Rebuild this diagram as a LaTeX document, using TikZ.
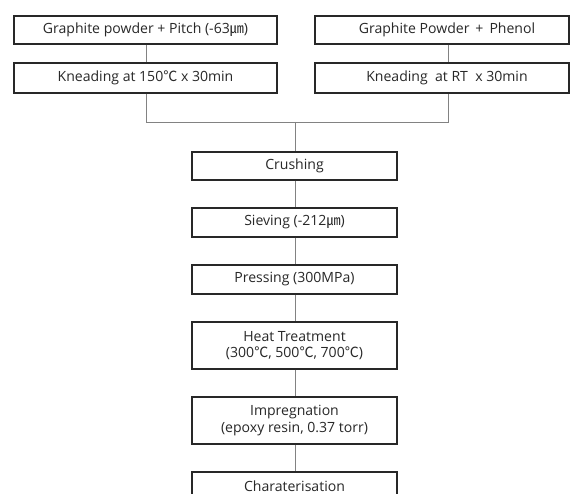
\documentclass[tikz,border=0pt]{standalone}
\usepackage{fontspec}
\setmainfont{Open Sans}
\newfontfamily\cjk{Noto Sans CJK KR}
\usetikzlibrary{positioning}
\definecolor{ink}{RGB}{40,40,40}
\definecolor{wire}{RGB}{130,130,130}
\tikzset{
  stepbox/.style={draw=ink,line width=0.75pt,fill=white,text=ink,
    minimum width=#1,minimum height=5.6mm,align=center,inner sep=1pt,
    font=\fontsize{8}{9.2}\selectfont},
  stepbox/.default=41mm,
  tall/.style={minimum height=9.4mm},
  link/.style={draw=wire,line width=0.5pt},
}
\newcommand{\um}{{\cjk ㎛}}
\newcommand{\degc}{{\cjk ℃}}

\begin{document}
\begin{tikzpicture}
    \clip (0,0) rectangle (11.4,9.88);
    % two starting mixtures
    \node[stepbox=52.6mm] (pitch)  at (2.91,9.28) {Graphite powder + Pitch (-63\um)};
    \node[stepbox=52.6mm,minimum height=6mm] (kneadP) at (2.91,8.32) {Kneading at 150\degc{} x 30min};
    \node[stepbox=50.8mm] (phenol) at (8.84,9.28) {\hspace*{2mm}Graphite Powder \,+\, Phenol};
    \node[stepbox=50.8mm,minimum height=6mm] (kneadR) at (8.84,8.32) {\hspace*{2mm}Kneading \ at RT \ x 30min};
    % main line
    \node[stepbox] (crush)  at (5.89,6.56) {Crushing};
    \node[stepbox,minimum height=5.8mm] (sieve)  at (5.89,5.43) {Sieving (-212\um)};
    \node[stepbox,minimum height=5.8mm] (press)  at (5.89,4.29) {Pressing (300MPa)};
    \node[stepbox,tall] (heat)   at (5.89,2.97) {Heat Treatment\\(300\degc, 500\degc, 700\degc)};
    \node[stepbox,tall] (impreg) at (5.89,1.47) {Impregnation\\(epoxy resin, 0.37 torr)};
    \node[stepbox] (charac) at (5.89,0.16) {Charaterisation};
    \coordinate (joinL) at (2.92,7.44);
    \coordinate (joinR) at (8.96,7.44);
    \coordinate (joinM) at (5.90,7.44);
    \draw[link] (pitch.south -| joinL) -- (kneadP.north -| joinL);
    \draw[link] (phenol.south -| joinR) -- (kneadR.north -| joinR);
    \draw[link] (kneadP.south -| joinL) -- (joinL) -- (joinR) -- (kneadR.south -| joinR);
    \draw[link] (joinM) -- (crush.north -| joinM);
    \foreach \a/\b in {crush/sieve,sieve/press,press/heat,heat/impreg,impreg/charac}
      \draw[link] (\a.south -| joinM) -- (\b.north -| joinM);
\end{tikzpicture}
\end{document}
